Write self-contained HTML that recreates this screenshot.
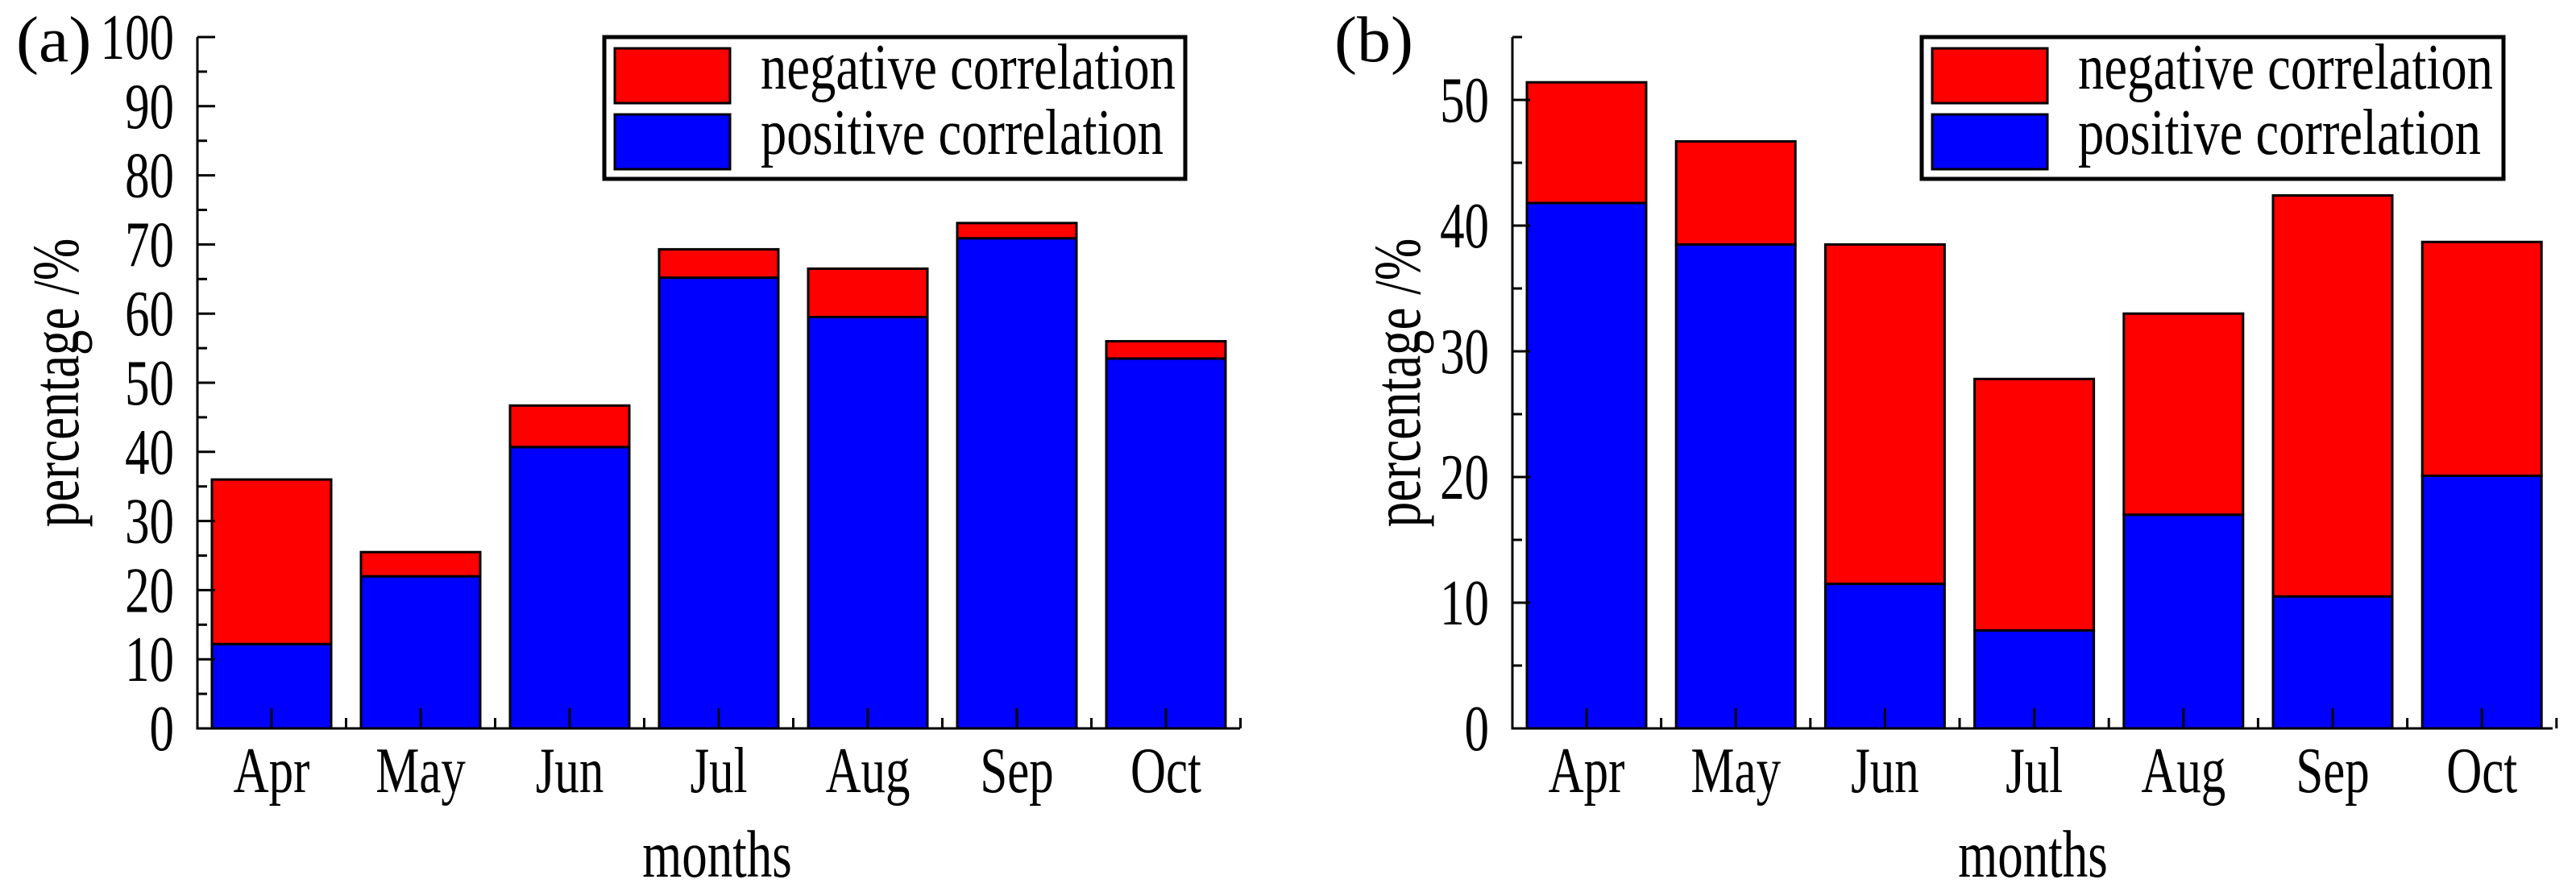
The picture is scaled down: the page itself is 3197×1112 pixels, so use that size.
<!DOCTYPE html>
<html><head><meta charset="utf-8"><style>
html,body{margin:0;padding:0;background:#fff}
svg{display:block}
text{font-family:"Liberation Serif","DejaVu Serif",serif;fill:#000}
</style></head><body>
<svg id="chart" width="3197" height="1112" viewBox="0 0 3197 1112" xmlns="http://www.w3.org/2000/svg"></svg>
<script>
const categories = ["Apr","May","Jun","Jul","Aug","Sep","Oct"];
const posA = [12.2, 22.0, 40.7, 65.2, 59.5, 70.9, 53.5];
const totalA = [36.0, 25.5, 46.7, 69.3, 66.5, 73.1, 56.0];
const posB = [41.8, 38.5, 11.5, 7.8, 17.0, 10.5, 20.1];
const totalB = [51.4, 46.7, 38.5, 27.8, 33.0, 42.4, 38.7];
const ticksA = [0,10,20,30,40,50,60,70,80,90,100];
const ticksB = [0,10,20,30,40,50];

const NS = "http://www.w3.org/2000/svg";
const svg = document.getElementById("chart");
const SY = 1.38;
function mk(tag, attrs, parent, txt){
  const e = document.createElementNS(NS, tag);
  for (const k in attrs) e.setAttribute(k, attrs[k]);
  if (txt !== undefined) e.textContent = txt;
  (parent || svg).appendChild(e);
  return e;
}
function txt(x, y, s, size, anchor, parent, extra, sx){
  const a = {x: 0, y: 0, "font-size": size, "text-anchor": anchor, transform: "translate(" + x + "," + y + ") scale(" + (sx || 1) + "," + SY + ")"};
  if (extra) for (const k in extra) a[k] = extra[k];
  return mk("text", a, parent, s);
}

function panel(o){
  const g = mk("g", {});
  
  
  const y = v => o.y0 - (v / o.ymax) * (o.y0 - o.yTop);
  const xc = i => o.xFirst + i * o.step;
  const bw = 148;
  categories.forEach((c, i) => {
    const pb = mk("rect", {x: xc(i)-bw/2, y: y(o.pos[i]), width: bw, height: o.y0 - y(o.pos[i]), fill: "#0000ff", stroke: "#000", "stroke-width": 3}, g);
    
    
    const nb = mk("rect", {x: xc(i)-bw/2, y: y(o.total[i]), width: bw, height: y(o.pos[i]) - y(o.total[i]), fill: "#ff0000", stroke: "#000", "stroke-width": 3}, g);
    
    
  });
  const ya = mk("line", {x1: o.xAxis, y1: o.yTop, x2: o.xAxis, y2: o.y0+1.5, stroke: "#000", "stroke-width": 3}, g);
  
  
  const xa = mk("line", {x1: o.xAxis, y1: o.y0, x2: o.xEnd, y2: o.y0, stroke: "#000", "stroke-width": 3}, g);
  
  
  o.ticks.forEach(t => {
    mk("line", {x1: o.xAxis, y1: y(t), x2: o.xAxis+22, y2: y(t), stroke: "#000", "stroke-width": 3}, g);
    if (t + 5 <= o.ymax) mk("line", {x1: o.xAxis, y1: y(t+5), x2: o.xAxis+12, y2: y(t+5), stroke: "#000", "stroke-width": 3}, g);
    const tl = txt(o.labelRight, y(t) + 27, String(t), 58, "end", g, null, 1.05);
    
    
  });
  categories.forEach((c, i) => {
    mk("line", {x1: xc(i), y1: o.y0, x2: xc(i), y2: o.y0-25, stroke: "#000", "stroke-width": 3}, g);
    mk("line", {x1: xc(i)+o.step/2, y1: o.y0, x2: xc(i)+o.step/2, y2: o.y0-13, stroke: "#000", "stroke-width": 3}, g);
    const xl = txt(xc(i), 983, c, 58, "middle", g, null, 1.05);
    
    
  });
  const xt = txt(o.monthsX, 1088, "months", 60, "middle", g, null, 1.05);
  
  
  const yt = mk("text", {x: 0, y: 0, "font-size": 60, "text-anchor": "middle", transform: "translate(" + o.yTitleX + ",475) rotate(-90) scale(1.05," + SY + ")"}, g, "percentage /%");
  
  
  const pl = txt(o.labelX, 76, o.label, 58, "start", g, null, 1.45);
  
  
  const lg = mk("g", {}, g);
  
  
  mk("rect", {x: o.legX, y: 46, width: o.legW, height: 176, fill: "#fff", stroke: "#000", "stroke-width": 5}, lg);
  mk("rect", {x: o.legX+13, y: 60, width: 143, height: 68, fill: "#ff0000", stroke: "#000", "stroke-width": 3}, lg);
  mk("rect", {x: o.legX+13, y: 142, width: 143, height: 68, fill: "#0000ff", stroke: "#000", "stroke-width": 3}, lg);
  const l1 = txt(o.legX+194, 110, "negative correlation", 58, "start", lg, {textLength: 515, lengthAdjust: "spacingAndGlyphs"});
  
  
  const l2 = txt(o.legX+194, 191, "positive correlation", 58, "start", lg, {textLength: 500, lengthAdjust: "spacingAndGlyphs"});
  
  
}

panel({name: "panel-a", pos: posA, total: totalA, ticks: ticksA, ymax: 100, y0: 904, yTop: 46,
  xAxis: 245, xEnd: 1539, xFirst: 337, step: 185, labelRight: 216, monthsX: 890, yTitleX: 97,
  labelX: 20, label: "(a)", legX: 750, legW: 721});
panel({name: "panel-b", pos: posB, total: totalB, ticks: ticksB, ymax: 55, y0: 904, yTop: 46,
  xAxis: 1877, xEnd: 3168, xFirst: 1969, step: 185.2, labelRight: 1848, monthsX: 2523, yTitleX: 1762,
  labelX: 1656, label: "(b)", legX: 2385, legW: 722});
</script>
</body></html>
